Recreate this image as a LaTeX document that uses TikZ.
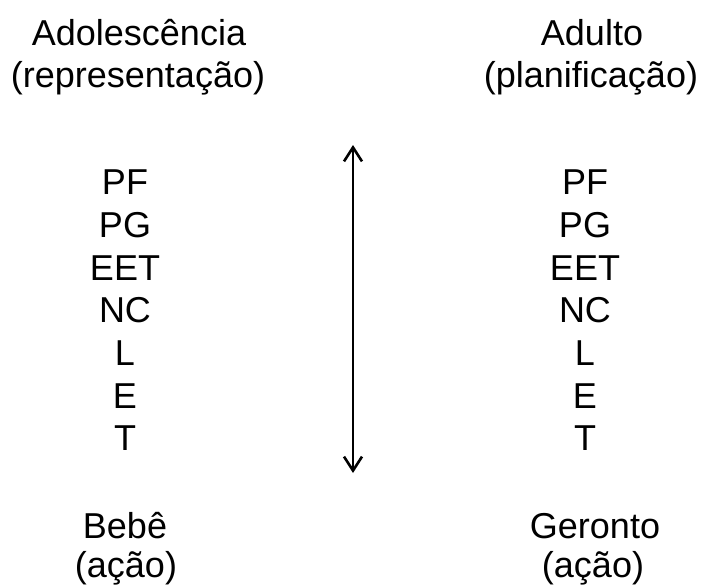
\documentclass[tikz,border=0pt]{standalone}
\usepackage{fontspec}
\setmainfont{Liberation Sans}
\usetikzlibrary{arrows.meta}
\begin{document}
\begin{tikzpicture}[x=1pt,y=-1pt,
  lbl/.style={anchor=base,inner sep=0pt,font=\fontsize{36}{42}\selectfont},
  axis/.style={line width=2.6pt,{Straight Barb[length=14pt,width=18pt,line width=2.6pt]}-{Straight Barb[length=14pt,width=18pt,line width=2.6pt]}}]
\useasboundingbox (0,0) rectangle (705,586);
% column headings
\node[lbl] (adol)  at (139,46) {Adolescência};
\node[lbl] (adolr) at (138,88) {(representação)};
\node[lbl] (adul)  at (592,46) {Adulto};
\node[lbl] (adulp) at (591,88) {(planificação)};
% left list
\foreach \t [count=\i] in {PF,PG,EET,NC,L,E,T}
  \node[lbl] (l\i) at (125,{152+42.7*\i}) {\t};
% right list
\foreach \t [count=\i] in {PF,PG,EET,NC,L,E,T}
  \node[lbl] (r\i) at (585,{152+42.7*\i}) {\t};
% bottom labels
\node[lbl] (bebe)  at (125,538) {Bebê};
\node[lbl] (bebea) at (126,577) {(ação)};
\node[lbl] (ger)   at (595,538) {Geronto};
\node[lbl] (gera)  at (593,577) {(ação)};
% vertical axis
\coordinate (top) at (353,145);
\coordinate (bot) at (353,473);
\draw[axis] (bot) -- (top);
\end{tikzpicture}
\end{document}
